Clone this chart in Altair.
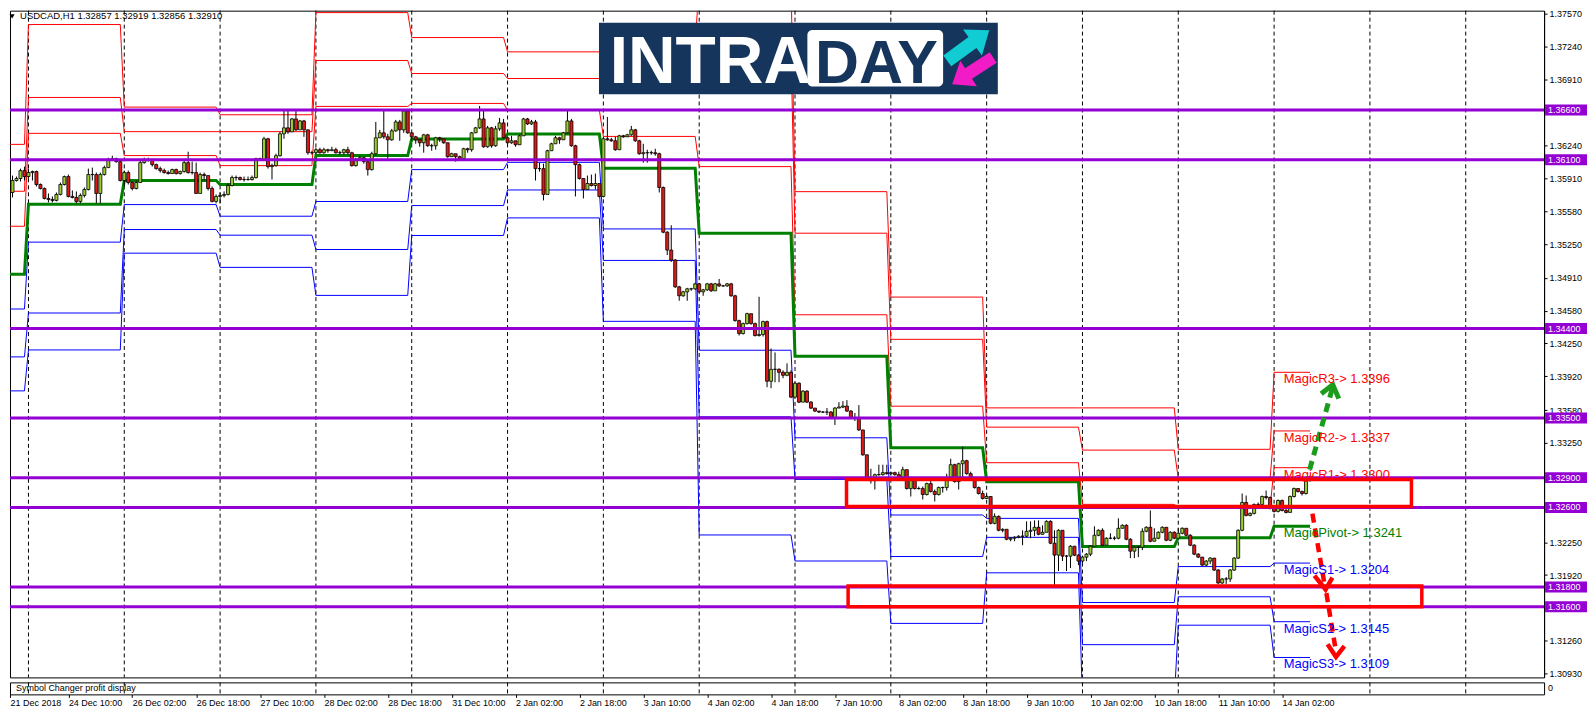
import json
import altair as alt
import pandas as pd

# ------------------------------------------------------------------ data
# USDCAD H1 candles, bar index 0 .. 327 (open of bar 0 given separately,
# every other open is the previous close)
first_open = 1.3549
close_prices = [
    1.3572, 1.3577, 1.3589, 1.3591, 1.3599, 1.3593, 1.3597, 1.3598, 1.3585, 1.3581,
    1.3571, 1.3570, 1.3569, 1.3575, 1.3585, 1.3593, 1.3573, 1.3572, 1.3568, 1.3574,
    1.3580, 1.3595, 1.3595, 1.3576, 1.3595, 1.3602, 1.3610, 1.3611, 1.3608, 1.3589,
    1.3597, 1.3587, 1.3581, 1.3587, 1.3607, 1.3610, 1.3610, 1.3605, 1.3601, 1.3599,
    1.3597, 1.3596, 1.3600, 1.3596, 1.3598, 1.3607, 1.3597, 1.3597, 1.3576, 1.3595,
    1.3594, 1.3581, 1.3568, 1.3573, 1.3574, 1.3575, 1.3584, 1.3592, 1.3592, 1.3590,
    1.3590, 1.3590, 1.3592, 1.3611, 1.3610, 1.3631, 1.3603, 1.3604, 1.3614, 1.3636,
    1.3642, 1.3638, 1.3651, 1.3640, 1.3649, 1.3640, 1.3617, 1.3617, 1.3620, 1.3617,
    1.3620, 1.3619, 1.3620, 1.3617, 1.3617, 1.3620, 1.3617, 1.3604, 1.3610, 1.3612,
    1.3608, 1.3600, 1.3616, 1.3632, 1.3637, 1.3633, 1.3630, 1.3639, 1.3648, 1.3640,
    1.3659, 1.3637, 1.3633, 1.3630, 1.3627, 1.3635, 1.3624, 1.3624, 1.3632, 1.3631,
    1.3627, 1.3613, 1.3616, 1.3613, 1.3611, 1.3621, 1.3620, 1.3637, 1.3642, 1.3651,
    1.3623, 1.3642, 1.3624, 1.3641, 1.3647, 1.3632, 1.3627, 1.3629, 1.3625, 1.3634,
    1.3651, 1.3646, 1.3648, 1.3601, 1.3601, 1.3575, 1.3619, 1.3626, 1.3632, 1.3630,
    1.3637, 1.3649, 1.3624, 1.3605, 1.3591, 1.3580, 1.3586, 1.3584, 1.3586, 1.3573,
    1.3631, 1.3630, 1.3629, 1.3620, 1.3634, 1.3633, 1.3635, 1.3640, 1.3629, 1.3616,
    1.3617, 1.3617, 1.3617, 1.3616, 1.3582, 1.3537, 1.3519, 1.3509, 1.3482, 1.3473,
    1.3477, 1.3480, 1.3480, 1.3485, 1.3477, 1.3479, 1.3485, 1.3478, 1.3485, 1.3483,
    1.3483, 1.3485, 1.3473, 1.3448, 1.3435, 1.3445, 1.3455, 1.3445, 1.3433, 1.3434,
    1.3447, 1.3387, 1.3399, 1.3399, 1.3396, 1.3393, 1.3396, 1.3371, 1.3385, 1.3366,
    1.3377, 1.3366, 1.3360, 1.3357, 1.3356, 1.3356, 1.3356, 1.3350, 1.3360, 1.3361,
    1.3362, 1.3357, 1.3350, 1.3350, 1.3338, 1.3313, 1.3289, 1.3287, 1.3293, 1.3293,
    1.3295, 1.3294, 1.3295, 1.3293, 1.3289, 1.3298, 1.3279, 1.3287, 1.3279, 1.3279,
    1.3273, 1.3284, 1.3276, 1.3273, 1.3280, 1.3280, 1.3289, 1.3303, 1.3286, 1.3304,
    1.3307, 1.3294, 1.3289, 1.3280, 1.3274, 1.3269, 1.3271, 1.3244, 1.3251, 1.3237,
    1.3238, 1.3228, 1.3229, 1.3230, 1.3231, 1.3231, 1.3236, 1.3237, 1.3240, 1.3233,
    1.3235, 1.3246, 1.3224, 1.3212, 1.3237, 1.3211, 1.3211, 1.3221, 1.3212, 1.3206,
    1.3210, 1.3213, 1.3221, 1.3232, 1.3237, 1.3222, 1.3229, 1.3229, 1.3229, 1.3239,
    1.3242, 1.3228, 1.3216, 1.3220, 1.3220, 1.3236, 1.3240, 1.3226, 1.3229, 1.3235,
    1.3240, 1.3227, 1.3235, 1.3229, 1.3234, 1.3239, 1.3232, 1.3222, 1.3213, 1.3210,
    1.3202, 1.3206, 1.3209, 1.3197, 1.3184, 1.3188, 1.3188, 1.3197, 1.3209, 1.3237,
    1.3265, 1.3252, 1.3254, 1.3263, 1.3263, 1.3271, 1.3270, 1.3259, 1.3256, 1.3267,
    1.3257, 1.3255, 1.3271, 1.3279, 1.3276, 1.3274, 1.3287, 1.3291,
]
high_prices = [
    1.3574, 1.3583, 1.3594, 1.3593, 1.3601, 1.3603, 1.3601, 1.3599, 1.3599, 1.3586,
    1.3582, 1.3576, 1.3573, 1.3577, 1.3587, 1.3594, 1.3595, 1.3579, 1.3578, 1.3576,
    1.3582, 1.3601, 1.3602, 1.3597, 1.3597, 1.3604, 1.3612, 1.3614, 1.3612, 1.3609,
    1.3599, 1.3599, 1.3588, 1.3589, 1.3609, 1.3612, 1.3612, 1.3611, 1.3606, 1.3603,
    1.3601, 1.3599, 1.3601, 1.3601, 1.3599, 1.3609, 1.3618, 1.3608, 1.3607, 1.3597,
    1.3597, 1.3593, 1.3583, 1.3575, 1.3577, 1.3578, 1.3586, 1.3594, 1.3594, 1.3593,
    1.3593, 1.3593, 1.3594, 1.3612, 1.3612, 1.3633, 1.3632, 1.3606, 1.3616, 1.3638,
    1.3661, 1.3661, 1.3652, 1.3659, 1.3650, 1.3650, 1.3640, 1.3619, 1.3622, 1.3622,
    1.3622, 1.3621, 1.3623, 1.3622, 1.3619, 1.3621, 1.3623, 1.3618, 1.3612, 1.3614,
    1.3613, 1.3609, 1.3618, 1.3648, 1.3640, 1.3661, 1.3636, 1.3641, 1.3650, 1.3650,
    1.3661, 1.3661, 1.3635, 1.3634, 1.3631, 1.3636, 1.3636, 1.3626, 1.3633, 1.3633,
    1.3631, 1.3627, 1.3617, 1.3614, 1.3614, 1.3622, 1.3622, 1.3638, 1.3643, 1.3664,
    1.3661, 1.3644, 1.3643, 1.3644, 1.3652, 1.3651, 1.3633, 1.3634, 1.3627, 1.3635,
    1.3652, 1.3652, 1.3650, 1.3650, 1.3607, 1.3606, 1.3620, 1.3627, 1.3634, 1.3633,
    1.3638, 1.3661, 1.3651, 1.3625, 1.3606, 1.3591, 1.3594, 1.3595, 1.3596, 1.3582,
    1.3632, 1.3653, 1.3632, 1.3633, 1.3635, 1.3635, 1.3636, 1.3644, 1.3641, 1.3630,
    1.3626, 1.3620, 1.3619, 1.3621, 1.3617, 1.3583, 1.3538, 1.3544, 1.3510, 1.3483,
    1.3478, 1.3481, 1.3481, 1.3486, 1.3486, 1.3480, 1.3486, 1.3486, 1.3486, 1.3490,
    1.3484, 1.3486, 1.3486, 1.3474, 1.3449, 1.3446, 1.3456, 1.3454, 1.3446, 1.3472,
    1.3448, 1.3448, 1.3420, 1.3416, 1.3400, 1.3398, 1.3405, 1.3398, 1.3386, 1.3386,
    1.3378, 1.3378, 1.3367, 1.3360, 1.3357, 1.3357, 1.3360, 1.3357, 1.3361, 1.3366,
    1.3367, 1.3368, 1.3358, 1.3355, 1.3363, 1.3338, 1.3313, 1.3299, 1.3294, 1.3303,
    1.3303, 1.3303, 1.3296, 1.3296, 1.3296, 1.3301, 1.3298, 1.3288, 1.3290, 1.3281,
    1.3281, 1.3285, 1.3289, 1.3278, 1.3281, 1.3281, 1.3294, 1.3309, 1.3304, 1.3305,
    1.3321, 1.3308, 1.3296, 1.3290, 1.3281, 1.3277, 1.3273, 1.3271, 1.3254, 1.3252,
    1.3239, 1.3236, 1.3230, 1.3231, 1.3232, 1.3237, 1.3246, 1.3246, 1.3247, 1.3247,
    1.3242, 1.3247, 1.3247, 1.3237, 1.3238, 1.3237, 1.3212, 1.3222, 1.3221, 1.3213,
    1.3211, 1.3214, 1.3222, 1.3241, 1.3238, 1.3239, 1.3230, 1.3234, 1.3231, 1.3249,
    1.3243, 1.3243, 1.3229, 1.3221, 1.3221, 1.3239, 1.3241, 1.3257, 1.3239, 1.3236,
    1.3241, 1.3240, 1.3236, 1.3236, 1.3239, 1.3240, 1.3238, 1.3233, 1.3223, 1.3214,
    1.3210, 1.3207, 1.3210, 1.3209, 1.3198, 1.3189, 1.3190, 1.3198, 1.3210, 1.3238,
    1.3274, 1.3272, 1.3255, 1.3264, 1.3265, 1.3272, 1.3277, 1.3271, 1.3260, 1.3268,
    1.3268, 1.3262, 1.3272, 1.3280, 1.3279, 1.3277, 1.3288, 1.3292,
]
low_prices = [
    1.3547, 1.3566, 1.3572, 1.3588, 1.3588, 1.3589, 1.3591, 1.3589, 1.3583, 1.3580,
    1.3570, 1.3567, 1.3567, 1.3568, 1.3574, 1.3584, 1.3572, 1.3571, 1.3566, 1.3566,
    1.3572, 1.3579, 1.3589, 1.3566, 1.3566, 1.3594, 1.3602, 1.3609, 1.3607, 1.3588,
    1.3583, 1.3585, 1.3579, 1.3580, 1.3587, 1.3606, 1.3608, 1.3603, 1.3600, 1.3597,
    1.3596, 1.3595, 1.3596, 1.3595, 1.3595, 1.3597, 1.3596, 1.3595, 1.3576, 1.3576,
    1.3589, 1.3579, 1.3567, 1.3566, 1.3566, 1.3572, 1.3574, 1.3583, 1.3589, 1.3589,
    1.3588, 1.3589, 1.3589, 1.3591, 1.3609, 1.3609, 1.3601, 1.3590, 1.3603, 1.3613,
    1.3631, 1.3636, 1.3639, 1.3639, 1.3640, 1.3633, 1.3615, 1.3615, 1.3616, 1.3616,
    1.3616, 1.3617, 1.3619, 1.3616, 1.3615, 1.3615, 1.3615, 1.3603, 1.3603, 1.3609,
    1.3606, 1.3594, 1.3599, 1.3614, 1.3632, 1.3631, 1.3611, 1.3629, 1.3638, 1.3629,
    1.3637, 1.3636, 1.3629, 1.3626, 1.3623, 1.3617, 1.3623, 1.3619, 1.3620, 1.3628,
    1.3626, 1.3612, 1.3613, 1.3608, 1.3610, 1.3611, 1.3617, 1.3618, 1.3637, 1.3641,
    1.3622, 1.3622, 1.3622, 1.3623, 1.3639, 1.3631, 1.3626, 1.3626, 1.3623, 1.3625,
    1.3634, 1.3645, 1.3645, 1.3589, 1.3598, 1.3569, 1.3577, 1.3619, 1.3626, 1.3626,
    1.3630, 1.3636, 1.3623, 1.3573, 1.3590, 1.3571, 1.3580, 1.3583, 1.3580, 1.3572,
    1.3572, 1.3629, 1.3628, 1.3619, 1.3620, 1.3632, 1.3633, 1.3634, 1.3628, 1.3615,
    1.3607, 1.3607, 1.3615, 1.3614, 1.3577, 1.3536, 1.3514, 1.3507, 1.3481, 1.3468,
    1.3472, 1.3468, 1.3478, 1.3479, 1.3476, 1.3473, 1.3478, 1.3477, 1.3479, 1.3482,
    1.3482, 1.3482, 1.3472, 1.3447, 1.3433, 1.3434, 1.3444, 1.3444, 1.3432, 1.3432,
    1.3432, 1.3381, 1.3380, 1.3386, 1.3386, 1.3390, 1.3392, 1.3370, 1.3376, 1.3365,
    1.3366, 1.3365, 1.3359, 1.3356, 1.3355, 1.3355, 1.3353, 1.3349, 1.3343, 1.3360,
    1.3360, 1.3356, 1.3349, 1.3347, 1.3337, 1.3312, 1.3288, 1.3284, 1.3278, 1.3292,
    1.3292, 1.3293, 1.3293, 1.3292, 1.3288, 1.3292, 1.3278, 1.3271, 1.3278, 1.3278,
    1.3268, 1.3272, 1.3275, 1.3266, 1.3272, 1.3275, 1.3277, 1.3289, 1.3285, 1.3278,
    1.3289, 1.3293, 1.3288, 1.3279, 1.3273, 1.3268, 1.3269, 1.3243, 1.3243, 1.3236,
    1.3235, 1.3227, 1.3226, 1.3226, 1.3229, 1.3222, 1.3230, 1.3229, 1.3231, 1.3232,
    1.3233, 1.3236, 1.3223, 1.3179, 1.3196, 1.3206, 1.3196, 1.3199, 1.3211, 1.3202,
    1.3204, 1.3206, 1.3211, 1.3221, 1.3231, 1.3221, 1.3222, 1.3228, 1.3227, 1.3228,
    1.3239, 1.3227, 1.3209, 1.3209, 1.3210, 1.3217, 1.3235, 1.3225, 1.3226, 1.3228,
    1.3234, 1.3226, 1.3226, 1.3228, 1.3229, 1.3233, 1.3231, 1.3221, 1.3212, 1.3209,
    1.3201, 1.3201, 1.3203, 1.3196, 1.3183, 1.3183, 1.3183, 1.3185, 1.3196, 1.3208,
    1.3236, 1.3251, 1.3251, 1.3253, 1.3261, 1.3262, 1.3268, 1.3258, 1.3255, 1.3255,
    1.3256, 1.3254, 1.3255, 1.3270, 1.3275, 1.3272, 1.3273, 1.3286,
]

# daily MagicPivot levels (one value per trading day)
day_start_bars = [0, 6, 30, 54, 78, 102, 126, 150, 174, 198, 222, 246, 270, 294, 318]
last_level_bar = 327
level_r3 = [1.36254, 1.37460, 1.36629, 1.36552, 1.37580, 1.37329, 1.37185, 1.37266,
            1.37878, 1.35778, 1.34717, 1.33602, 1.33602, 1.33185, 1.3396]
level_r2 = [1.35782, 1.36726, 1.36382, 1.36382, 1.37098, 1.36967, 1.36917, 1.36944,
            1.37208, 1.35360, 1.34292, 1.33408, 1.33177, 1.32892, 1.3337]
level_r1 = [1.35430, 1.36365, 1.36141, 1.36040, 1.36636, 1.36666, 1.36596, 1.36334,
            1.36030, 1.34539, 1.33619, 1.33050, 1.32631, 1.32601, 1.3300]
level_pivot = [1.34948, 1.35651, 1.35890, 1.35849, 1.36141, 1.36307, 1.36358, 1.36013,
               1.35360, 1.34122, 1.33200, 1.32859, 1.32206, 1.32296, 1.3241]
level_s1 = [1.34597, 1.35270, 1.35648, 1.35531, 1.35679, 1.36000, 1.36073, 1.35403,
            1.34182, 1.33301, 1.32524, 1.32490, 1.31643, 1.32005, 1.3204]
level_s2 = [1.34115, 1.34557, 1.35397, 1.35340, 1.35196, 1.35638, 1.35795, 1.35086,
            1.33512, 1.32882, 1.32106, 1.32299, 1.31219, 1.31701, 1.3145]
level_s3 = [1.33773, 1.34185, 1.35159, 1.35016, 1.34734, 1.35337, 1.35514, 1.34473,
            1.32323, 1.32061, 1.31433, 1.31942, 1.30669, 1.31415, 1.3109]

magic_names = ["MagicR3", "MagicR2", "MagicR1", "MagicPivot", "MagicS1", "MagicS2", "MagicS3"]
magic_values = [1.3396, 1.3337, 1.3300, 1.3241, 1.3204, 1.3145, 1.3109]
magic_colors = ["#ff0000", "#ff0000", "#ff0000", "#008000", "#0000ff", "#0000ff", "#0000ff"]
magic_label_bar = 320.4

# horizontal support / resistance lines
key_levels = [1.3660, 1.3610, 1.3440, 1.3350, 1.3290, 1.3260, 1.3180, 1.3160]

# zones (red rectangles)
zone_bar_from = [210.9, 211.3]
zone_bar_to = [352.4, 355.0]
zone_top = [1.3288, 1.3181]
zone_bottom = [1.3261, 1.3160]

# projected paths (dashed arrows)
green_path_bar = [326.9, 332.6]
green_path_price = [1.3298, 1.3380]
green_head_bar = [329.8, 332.7, 334.2]
green_head_price = [1.33745, 1.33836, 1.33695]
red_path1_bar = [327.6, 330.6]
red_path1_price = [1.32537, 1.31834]
red_head1_bar = [328.1, 330.9, 332.6]
red_head1_price = [1.31914, 1.31774, 1.31894]
red_path2_bar = [331.1, 333.4]
red_path2_price = [1.31737, 1.31175]
red_head2_bar = [331.4, 333.5, 335.6]
red_head2_price = [1.31222, 1.31095, 1.31205]

# axes
price_ticks = [1.37570, 1.37240, 1.36910, 1.36580, 1.36240, 1.35910, 1.35580, 1.35250,
               1.34910, 1.34580, 1.34250, 1.33920, 1.33580, 1.33250, 1.32910, 1.32580,
               1.32250, 1.31920, 1.31590, 1.31260, 1.30930]
separator_bars = [6, 30, 54, 78, 102, 126, 150, 174, 198, 222, 246, 270, 294, 318, 342, 366]
time_label_bars = [0, 16, 32, 48, 64, 80, 96, 112, 128, 144, 160, 176, 192, 208, 224,
                   240, 256, 272, 288, 304, 320]
time_labels = ["21 Dec 2018", "24 Dec 10:00", "26 Dec 02:00", "26 Dec 18:00", "27 Dec 10:00",
               "28 Dec 02:00", "28 Dec 18:00", "31 Dec 10:00", "2 Jan 02:00", "2 Jan 18:00",
               "3 Jan 10:00", "4 Jan 02:00", "4 Jan 18:00", "7 Jan 10:00", "8 Jan 02:00",
               "8 Jan 18:00", "9 Jan 10:00", "10 Jan 02:00", "10 Jan 18:00", "11 Jan 10:00",
               "14 Jan 02:00"]

header_text = "USDCAD,H1  1.32857 1.32919 1.32856 1.32910"

# ------------------------------------------------------------------ layout
W = 1537
H = 668
BAR_PX = 4.0
X_LO = 1.375
X_HI = X_LO + W / BAR_PX
FONT = "Liberation Sans"
PURPLE = "#9400d3"
NAVY = "#16355c"

xs = alt.Scale(domain=[X_LO, X_HI], nice=False, zero=False)
ys = alt.Scale(domain=[1.308896, 1.375996], nice=False, zero=False)
yax = alt.Axis(orient="right", values=price_ticks, format=".5f", title=None, grid=False,
               labelFont=FONT, labelFontSize=9, labelColor="black", tickColor="black",
               tickSize=3, domainColor="black", labelPadding=2, labelOverlap=False)


def X(field):
    return alt.X(field, type="quantitative", scale=xs, axis=None)


def Y(field):
    return alt.Y(field, type="quantitative", scale=ys, axis=yax)


# candles table
opens = [first_open] + close_prices[:-1]
candles = pd.DataFrame({
    "bar": list(range(len(close_prices))),
    "open": opens,
    "high": high_prices,
    "low": low_prices,
    "close": close_prices,
})
candles["dir"] = ["up" if c >= o else "down" for o, c in zip(opens, close_prices)]

# level lines table
level_series = {"R3": level_r3, "R2": level_r2, "R1": level_r1, "P": level_pivot,
                "S1": level_s1, "S2": level_s2, "S3": level_s3}
rows = []
for name, vals in level_series.items():
    for d, v in enumerate(vals):
        s = day_start_bars[d] if d > 0 else -1
        e = day_start_bars[d + 1] - 1 if d + 1 < len(day_start_bars) else last_level_bar
        rows.append({"series": name, "bar": s, "value": v, "k": 2 * d})
        rows.append({"series": name, "bar": e, "value": v, "k": 2 * d + 1})
levels = pd.DataFrame(rows)

sep_df = pd.DataFrame({"bar": separator_bars})
key_df = pd.DataFrame({"price": key_levels})
zones = pd.DataFrame({"x0": zone_bar_from, "x1": zone_bar_to, "top": zone_top, "bottom": zone_bottom})
magic_df = pd.DataFrame({
    "bar": [magic_label_bar] * len(magic_names),
    "value": magic_values,
    "label": [f"{n}-> {v:.4f}" for n, v in zip(magic_names, magic_values)],
    "col": magic_colors,
})


def path_df(bars, prices):
    return pd.DataFrame({"bar": bars, "price": prices, "k": list(range(len(bars)))})


separators = alt.Chart(sep_df).mark_rule(color="black", strokeWidth=1, strokeDash=[4, 3]).encode(
    x=X("bar"))

red_lines = alt.Chart(levels).transform_filter(
    alt.FieldOneOfPredicate(field="series", oneOf=["R1", "R2", "R3"])
).mark_line(color="#ff0000", strokeWidth=1, clip=True).encode(
    x=X("bar"), y=Y("value"), detail="series:N", order="k:Q")

blue_lines = alt.Chart(levels).transform_filter(
    alt.FieldOneOfPredicate(field="series", oneOf=["S1", "S2", "S3"])
).mark_line(color="#0000ff", strokeWidth=1, clip=True).encode(
    x=X("bar"), y=Y("value"), detail="series:N", order="k:Q")

pivot_line = alt.Chart(levels).transform_filter(
    alt.FieldEqualPredicate(field="series", equal="P")
).mark_line(color="#008000", strokeWidth=3, clip=True).encode(
    x=X("bar"), y=Y("value"), order="k:Q")

wicks = alt.Chart(candles).mark_rule(color="black", strokeWidth=1, clip=True).encode(
    x=X("bar"), y=Y("low"), y2="high")

bodies = alt.Chart(candles).transform_calculate(
    b0="datum.bar - 0.38", b1="datum.bar + 0.38"
).mark_rect(stroke="black", strokeWidth=0.8, clip=True).encode(
    x=X("b0"), x2="b1", y=Y("open"), y2="close",
    fill=alt.Fill("dir:N", scale=alt.Scale(domain=["up", "down"], range=["#9acd32", "#e01818"]),
                  legend=None))

key_lines = alt.Chart(key_df).mark_rule(color=PURPLE, strokeWidth=3).encode(y=Y("price"))

key_tags = alt.Chart(key_df).mark_tick(orient="horizontal", size=42, thickness=11,
                                        color=PURPLE, opacity=1).encode(
    x=alt.value(W + 22), y=Y("price"))

key_text = alt.Chart(key_df).mark_text(align="left", baseline="middle", font=FONT,
                                        fontSize=9, color="white").encode(
    x=alt.value(W + 4), y=Y("price"), text=alt.Text("price:Q", format=".5f"))

zone_rects = alt.Chart(zones).mark_rect(fillOpacity=0, stroke="#ff0000", strokeWidth=3.5).encode(
    x=X("x0"), x2="x1", y=Y("top"), y2="bottom")

green_path = alt.Chart(path_df(green_path_bar, green_path_price)).mark_line(
    color="#1c9c1c", strokeWidth=5, strokeDash=[9, 6]).encode(x=X("bar"), y=Y("price"), order="k:Q")
green_head = alt.Chart(path_df(green_head_bar, green_head_price)).mark_line(
    color="#1c9c1c", strokeWidth=5).encode(x=X("bar"), y=Y("price"), order="k:Q")
red_path1 = alt.Chart(path_df(red_path1_bar, red_path1_price)).mark_line(
    color="#ff0000", strokeWidth=4.5, strokeDash=[9, 6]).encode(x=X("bar"), y=Y("price"), order="k:Q")
red_head1 = alt.Chart(path_df(red_head1_bar, red_head1_price)).mark_line(
    color="#ff0000", strokeWidth=4.5).encode(x=X("bar"), y=Y("price"), order="k:Q")
red_path2 = alt.Chart(path_df(red_path2_bar, red_path2_price)).mark_line(
    color="#ff0000", strokeWidth=4.5, strokeDash=[9, 6]).encode(x=X("bar"), y=Y("price"), order="k:Q")
red_head2 = alt.Chart(path_df(red_head2_bar, red_head2_price)).mark_line(
    color="#ff0000", strokeWidth=4.5).encode(x=X("bar"), y=Y("price"), order="k:Q")

magic_text = alt.Chart(magic_df).mark_text(align="left", baseline="top", dy=1, font=FONT,
                                            fontSize=13).encode(
    x=X("bar"), y=Y("value"), text="label:N", color=alt.Color("col:N", scale=None))

# logo (decoration placed in chart coordinates)
logo_box = alt.Chart(pd.DataFrame({"x0": [148.9], "x1": [248.8], "y0": [1.37479], "y1": [1.36759]})
                     ).mark_rect(color=NAVY, opacity=1).encode(x=X("x0"), x2="x1", y=Y("y0"), y2="y1")
logo_white = alt.Chart(pd.DataFrame({"x0": [201.1], "x1": [235.1], "y0": [1.37406], "y1": [1.36836]})
                       ).mark_rect(color="white", cornerRadius=5, opacity=1).encode(
    x=X("x0"), x2="x1", y=Y("y0"), y2="y1")
logo_intra = alt.Chart(pd.DataFrame({"bar": [151.6], "price": [1.36876], "t": ["INTRA"]})).mark_text(
    align="left", baseline="alphabetic", font=FONT, fontWeight="bold", fontSize=66, color="white"
).encode(x=X("bar"), y=Y("price"), text="t:N")
logo_day = alt.Chart(pd.DataFrame({"bar": [203.0], "price": [1.36876], "t": ["DAY"]})).mark_text(
    align="left", baseline="alphabetic", font=FONT, fontWeight="bold", fontSize=61, color=NAVY
).encode(x=X("bar"), y=Y("price"), text="t:N")
ARROW = "M-1,-0.26 L0.2,-0.26 L0.2,-0.62 L1,0 L0.2,0.62 L0.2,0.26 L-1,0.26 Z"
logo_up = alt.Chart(pd.DataFrame({"bar": [241.4], "price": [1.37248]})).mark_point(
    shape=ARROW, filled=True, size=2700, angle=324, color="#12ccd3", opacity=1, strokeWidth=0
).encode(x=X("bar"), y=Y("price"))
logo_down = alt.Chart(pd.DataFrame({"bar": [242.5], "price": [1.36994]})).mark_point(
    shape=ARROW, filled=True, size=2400, angle=147, color="#f21cc6", opacity=1, strokeWidth=0
).encode(x=X("bar"), y=Y("price"))

header_tri = alt.Chart(pd.DataFrame({"bar": [1.9], "price": [1.37542]})).mark_point(
    shape="triangle-down", filled=True, size=26, color="black", opacity=1
).encode(x=X("bar"), y=Y("price"))
header = alt.Chart(pd.DataFrame({"bar": [3.9], "price": [1.37542], "t": [header_text]})).mark_text(
    align="left", baseline="middle", font=FONT, fontSize=9.5, color="black"
).encode(x=X("bar"), y=Y("price"), text="t:N")

main = alt.layer(
    separators, red_lines, blue_lines, pivot_line, wicks, bodies,
    key_lines, key_tags, key_text, zone_rects,
    green_path, green_head, red_path1, red_head1, red_path2, red_head2,
    magic_text, logo_box, logo_white, logo_intra, logo_day, logo_up, logo_down,
    header_tri, header,
).properties(width=W, height=H)

# ------------------------------------------------------------------ sub window
axis_label_bars = [max(b, X_LO) for b in time_label_bars]
label_lookup = "[" + ",".join(json.dumps(t) for t in time_labels) + "][round(datum.value / 16)]"
xax = alt.Axis(orient="bottom", values=axis_label_bars, labelExpr=label_lookup, labelAlign="left",
               labelFont=FONT, labelFontSize=9, labelColor="black", tickColor="black", tickSize=3,
               domain=False, grid=False, title=None, labelPadding=1, labelOverlap=False)

sub_sep = alt.Chart(sep_df).mark_rule(color="black", strokeWidth=1, strokeDash=[4, 3]).encode(
    x=alt.X("bar:Q", scale=xs, axis=xax))
sub_text = alt.Chart(pd.DataFrame({"t": ["Symbol Changer profit display"]})).mark_text(
    align="left", baseline="middle", font=FONT, fontSize=9, color="black"
).encode(x=alt.value(6), y=alt.value(6), text="t:N")
sub_zero = alt.Chart(pd.DataFrame({"t": ["0"]})).mark_text(
    align="left", baseline="middle", font=FONT, fontSize=9, color="black"
).encode(x=alt.value(W + 4), y=alt.value(6), text="t:N")

sub = alt.layer(sub_sep, sub_text, sub_zero).properties(width=W, height=12)

chart = alt.vconcat(main, sub, spacing=2).properties(padding=0, background="white").configure_view(
    stroke="black", strokeWidth=1)

chart.save("out.html", embed_options={"renderer": "svg", "actions": False})
